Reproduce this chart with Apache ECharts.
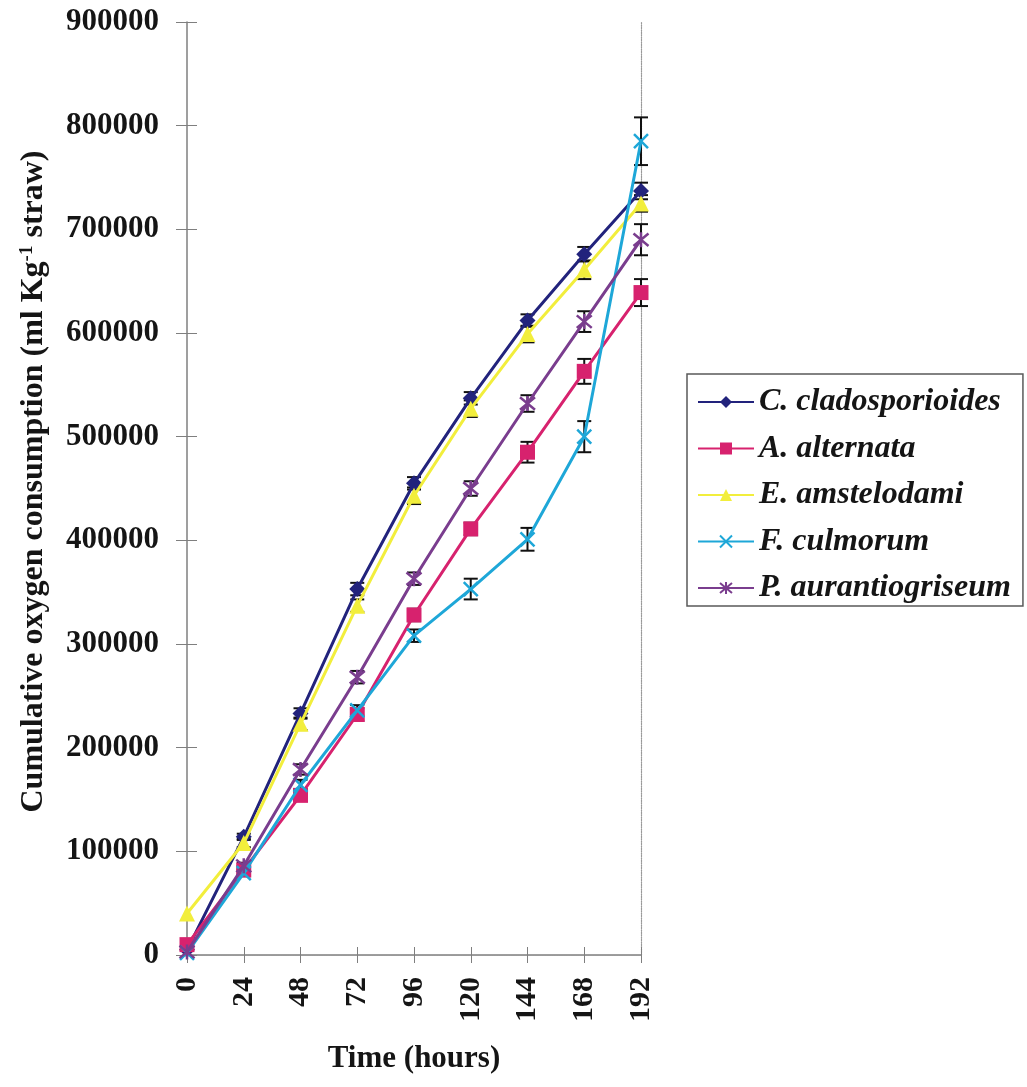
<!DOCTYPE html>
<html><head><meta charset="utf-8">
<script src="https://cdn.jsdelivr.net/npm/echarts@6/dist/echarts.min.js"></script>
<style>html,body{margin:0;padding:0;background:#fff}#c{width:1027px;height:1087px}</style>
</head><body><div id="c"></div>
<script>
const hours = ['0','24','48','72','96','120','144','168','192'];
const seriesNames = ['C. cladosporioides','A. alternata','E. amstelodami','F. culmorum','P. aurantiogriseum'];
const clad = [5000, 114000, 233000, 353000, 455000, 537000, 612000, 676000, 737000];
const alt  = [10000, 82000, 154000, 232000, 328000, 411000, 485000, 563000, 639000];
const amst = [40000, 108000, 223000, 337000, 443000, 527000, 599000, 661000, 725000];
const culm = [2000, 79000, 164000, 236000, 308000, 353000, 401000, 500000, 785000];
const aur  = [3000, 86000, 179000, 268000, 363000, 450000, 532000, 611000, 690000];
const cladErr = [0, 3000, 5000, 6000, 6000, 6000, 6000, 7000, 8000];
const altErr  = [0, 4000, 5000, 6000, 6000, 6000, 10000, 12000, 13000];
const amstErr = [0, 4000, 6000, 6000, 8000, 8000, 8000, 9000, 8000];
const culmErr = [0, 3000, 5000, 5000, 6000, 10000, 11000, 15000, 23000];
const aurErr  = [0, 3000, 5000, 6000, 6000, 7000, 8000, 10000, 15000];
const yMin = 0, yMax = 900000, yStep = 100000;

const FONT = 'Liberation Serif';
const colors = ['#22237c', '#d7226e', '#f2ee3c', '#1ea7d8', '#7a3d8e'];
const symbols = [
  'diamond', 'rect', 'triangle',
  'path://M0,0L10,10M10,0L0,10',
  'path://M0,0L10,10M10,0L0,10M5,-1L5,11'
];
const symSizes = [16, 15, 16, 14, 15];
const vals = [clad, alt, amst, culm, aur];
const errs = [cladErr, altErr, amstErr, culmErr, aurErr];

const lineSeries = vals.map((v, k) => ({
  name: seriesNames[k], type: 'line', data: v,
  xAxisIndex: 0, yAxisIndex: 0,
  symbol: symbols[k], symbolSize: symSizes[k], showAllSymbol: true,
  lineStyle: { color: colors[k], width: 3 },
  itemStyle: { color: colors[k], borderColor: colors[k], borderWidth: (k >= 3 ? 2.5 : 0) },
  z: 3 + k
}));

const errSeries = vals.map((v, k) => ({
  type: 'custom', xAxisIndex: 0, yAxisIndex: 0, z: 2,
  data: v.map((y, i) => [i, y, errs[k][i]]).filter(d => d[2] > 0),
  renderItem: function (params, api) {
    const x = api.value(0), y = api.value(1), e = api.value(2);
    const top = api.coord([x, y + e]);
    const bot = api.coord([x, y - e]);
    const w = 7;
    const st = { stroke: '#111', lineWidth: 2 };
    return { type: 'group', children: [
      { type: 'line', shape: { x1: top[0], y1: top[1], x2: bot[0], y2: bot[1] }, style: st },
      { type: 'line', shape: { x1: top[0]-w, y1: top[1], x2: top[0]+w, y2: top[1] }, style: st },
      { type: 'line', shape: { x1: bot[0]-w, y1: bot[1], x2: bot[0]+w, y2: bot[1] }, style: st }
    ]};
  }
}));

const axisGray = '#7f7f7f';
const option = {
  animation: false,
  backgroundColor: '#fff',
  grid: { left: 187, right: 386, top: 22, bottom: 132 },
  legend: {
    orient: 'vertical', left: 687, top: 374,
    data: seriesNames,
    itemWidth: 56, itemHeight: 15, itemGap: 14.5,
    padding: [12, 12, 2, 10],
    borderColor: '#5a5a5a', borderWidth: 1.5,
    textStyle: { fontFamily: FONT, fontWeight: 'bold', fontStyle: 'italic', fontSize: 32, color: '#151515', lineHeight: 32 }
  },
  xAxis: [
    { type: 'category', data: hours, boundaryGap: false, position: 'bottom',
      name: 'Time (hours)', nameLocation: 'middle', nameGap: 88,
      nameTextStyle: { fontFamily: FONT, fontWeight: 'bold', fontSize: 31, color: '#151515' },
      axisLine: { lineStyle: { color: axisGray, width: 1.5 } },
      axisTick: { show: true, length: 8, lineStyle: { color: axisGray } },
      axisLabel: { rotate: 90, margin: 22, fontFamily: FONT, fontWeight: 'bold', fontSize: 30, color: '#151515' },
      splitLine: { show: false } },
    { type: 'category', data: hours, boundaryGap: false, position: 'bottom', offset: -8,
      axisLine: { show: false }, axisTick: { show: true, length: 8, lineStyle: { color: axisGray } },
      axisLabel: { show: false }, splitLine: { show: false } },
    { type: 'category', data: hours, boundaryGap: false, position: 'top',
      axisLine: { lineStyle: { color: '#999', width: 1.2, type: 'dotted' } },
      axisTick: { show: false }, axisLabel: { show: false }, splitLine: { show: false } }
  ],
  yAxis: [
    { type: 'value', min: yMin, max: yMax, interval: yStep, position: 'left',
      name: 'Cumulative oxygen consumption (ml Kg{sup|-1} straw)',
      nameLocation: 'middle', nameGap: 137,
      nameTextStyle: { fontFamily: FONT, fontWeight: 'bold', fontSize: 32, color: '#151515', padding: [0, 0, 0, 14],
        rich: { sup: { fontFamily: FONT, fontWeight: 'bold', fontSize: 19, color: '#151515', verticalAlign: 'top', lineHeight: 19 } } },
      axisLine: { show: true, lineStyle: { color: axisGray, width: 1.5 } },
      axisTick: { show: true, length: 11, lineStyle: { color: axisGray } },
      axisLabel: { margin: 28, fontFamily: FONT, fontWeight: 'bold', fontSize: 31, color: '#151515',
        formatter: v => String(v) },
      splitLine: { show: false } },
    { type: 'value', min: yMin, max: yMax, interval: yStep, position: 'left', offset: -10,
      axisLine: { show: false }, axisTick: { show: true, length: 10, lineStyle: { color: axisGray } },
      axisLabel: { show: false }, splitLine: { show: false } },
    { type: 'value', min: yMin, max: yMax, interval: yStep, position: 'right',
      axisLine: { show: true, lineStyle: { color: '#999', width: 1.2, type: 'dotted' } },
      axisTick: { show: false }, axisLabel: { show: false }, splitLine: { show: false } }
  ],
  series: errSeries.concat(lineSeries)
};
const chart = echarts.init(document.getElementById('c'), null, { renderer: 'canvas' });
chart.setOption(option);
</script></body></html>
